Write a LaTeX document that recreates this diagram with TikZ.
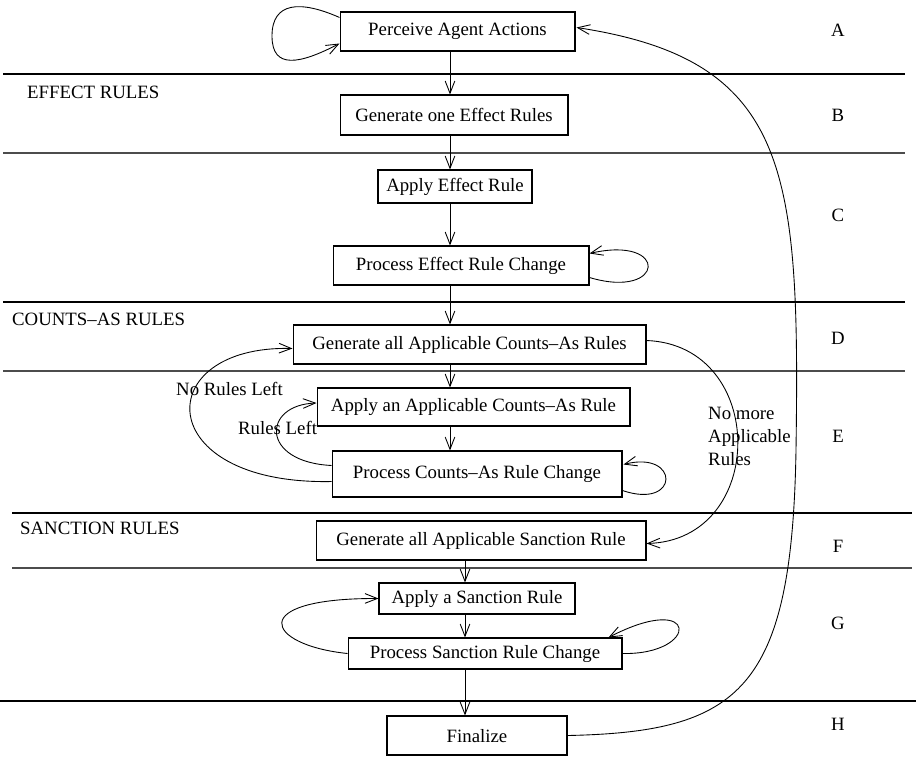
\documentclass[tikz,border=0pt]{standalone}
\usepackage{fontspec}
\setmainfont{Liberation Serif}
\usetikzlibrary{arrows.meta,calc}

\begin{document}
\begin{tikzpicture}[x=0.02cm, y=-0.02cm,
    font=\fontsize{10.7}{13}\selectfont,
    >={Straight Barb[length=7pt,width=5.5pt]},
    box/.style={draw, line width=0.6pt, inner sep=0pt},
    thickline/.style={line width=0.9pt},
    thinline/.style={line width=0.6pt, black!70},
    link/.style={line width=0.5pt}]

    \useasboundingbox (0,0) rectangle (916,758);

    % section dividers
    \draw[thickline] (3,74) -- (905,74);
    \draw[thinline] (3,153) -- (905,153);
    \draw[thickline] (3,302) -- (905,302);
    \draw[thinline] (3,371) -- (905,371);
    \draw[thickline] (12,513) -- (912,513);
    \draw[thinline] (12,568) -- (912,568);
    \draw[thickline] (0,701) -- (916,701);

    % section names
    \node[anchor=west] (effect) at (21,92) {EFFECT RULES};
    \node[anchor=west] (counts) at (6,319) {COUNTS--AS RULES};
    \node[anchor=west] (sanction) at (14,528) {SANCTION RULES};

    % stage letters
    \foreach \t/\y in {A/30, B/115, C/215, D/338, E/436, F/546, G/623, H/724} {
        \node (l\t) at (838,\y) {\t};
    }

    % steps
    \node[box, minimum width=4.70cm, minimum height=0.78cm] (A) at (457.5,31.5) {Perceive Agent Actions};
    \node[box, minimum width=4.56cm, minimum height=0.80cm] (B) at (454,115) {Generate one Effect Rules};
    \node[box, minimum width=3.08cm, minimum height=0.66cm] (C1) at (455,186.5) {Apply Effect Rule};
    \node[box, minimum width=5.12cm, minimum height=0.78cm] (C2) at (461,265.5) {Process Effect Rule Change};
    \node[box, minimum width=7.06cm, minimum height=0.78cm] (D) at (469.5,344.5) {Generate all Applicable Counts--As Rules};
    \node[box, minimum width=6.26cm, minimum height=0.76cm] (E1) at (473.5,407) {Apply an Applicable Counts--As Rule};
    \node[box, minimum width=5.80cm, minimum height=0.92cm] (E2) at (477,474) {Process Counts--As Rule Change};
    \node[box, minimum width=6.60cm, minimum height=0.78cm] (F) at (481,540.5) {Generate all Applicable Sanction Rule};
    \node[box, minimum width=3.92cm, minimum height=0.62cm] (G1) at (477,598.5) {Apply a Sanction Rule};
    \node[box, minimum width=5.48cm, minimum height=0.62cm] (G2) at (485,653.5) {Process Sanction Rule Change};
    \node[box, minimum width=3.60cm, minimum height=0.78cm, text depth=-6pt] (H) at (477,735.5) {Finalize};

    % main flow
    \coordinate (spine) at (450,0);
    \coordinate (spineG) at (465,0);
    \draw[link, ->] (A.south -| spine) -- (B.north -| spine);
    \draw[link, ->] (B.south -| spine) -- (C1.north -| spine);
    \draw[link, ->] (C1.south -| spine) -- (C2.north -| spine);
    \draw[link, ->] (C2.south -| spine) -- (D.north -| spine);
    \draw[link, ->] (D.south -| spine) -- (E1.north -| spine);
    \draw[link, ->] (E1.south -| spine) -- (E2.north -| spine);
    \draw[link, ->] (F.south -| spineG) -- (G1.north -| spineG);
    \draw[link, ->] (G1.south -| spineG) -- (G2.north -| spineG);
    \draw[link, ->] (G2.south -| spineG) -- (H.north -| spineG);

    % loops
    \draw[link, ->] ($(A.north west)+(0,6)$) .. controls (300,0) and (272,2) .. (272,36)
        .. controls (272,70) and (300,64) .. ($(A.south west)+(0,-8)$);
    \draw[link, ->] ($(C2.south east)+(0,-8)$) .. controls (665,300) and (670,235) .. ($(C2.north east)+(0,8)$);
    \draw[link, ->] ($(E2.south east)+(0,-7)$) .. controls (680,510) and (680,450) .. ($(E2.north east)+(1,14)$);
    \draw[link, ->] (G2.east) .. controls (700,655) and (700,590) .. ($(G2.north east)+(-14,0)$);
    \draw[link, ->] (G2.west) .. controls (265,645) and (245,598) .. (G1.west);

    % counts-as branches
    \draw[link, ->] ($(E2.north west)+(0,15)$) .. controls (260,462) and (262,405) .. ($(E1.west)+(0,-4)$);
    \draw[link, ->] ($(E2.south west)+(0,-16)$) .. controls (150,485) and (150,345) .. ($(D.west)+(0,4)$);
    \draw[link, ->] ($(D.east)+(0,-4)$) .. controls (768,345) and (768,540) .. ($(F.east)+(0,3)$);
    \node[anchor=west] (norules) at (170,389) {No Rules Left};
    \node[anchor=west] (rulesleft) at (232,428) {Rules Left};
    \node[anchor=north west, align=left] (nomore) at (702,401) {No more\\Applicable\\Rules};

    % back to start
    \draw[link, ->] (H.east) .. controls (740,732) and (792,690) .. (796,450)
        .. controls (800,170) and (790,60) .. ($(A.east)+(1,-4)$);

\end{tikzpicture}
\end{document}
